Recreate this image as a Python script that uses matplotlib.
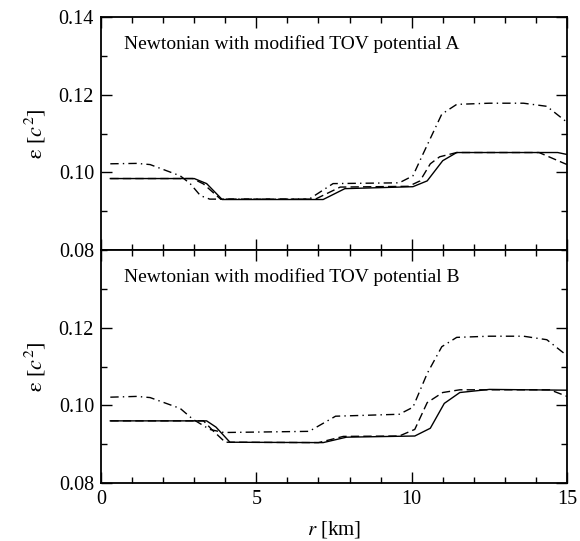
import matplotlib
matplotlib.use('Agg')
import matplotlib.pyplot as plt
from matplotlib.ticker import MultipleLocator
import numpy as np

plt.rcParams['font.family'] = ['Liberation Serif', 'DejaVu Serif']
plt.rcParams['mathtext.fontset'] = 'stix'

# panel A: radius [km] and energy density [c^2]
rA_solid = [0.3, 3.0, 3.4, 3.9, 7.15, 7.85, 10.04, 10.5, 11.0, 11.45, 14.7, 15.0]
eA_solid = [0.0984, 0.0984, 0.0971, 0.0930, 0.0930, 0.0958, 0.0963, 0.0978, 0.1030, 0.1051, 0.1051, 0.1046]

rA_dash = [0.3, 2.95, 3.3, 3.85, 6.9, 7.7, 9.9, 10.27, 10.6, 10.9, 11.45, 14.1, 15.0]
eA_dash = [0.0984, 0.0984, 0.0970, 0.0931, 0.0931, 0.0962, 0.0964, 0.0978, 0.1022, 0.1040, 0.1051, 0.1051, 0.1020]

rA_dd = [0.3, 1.15, 1.58, 2.55, 2.87, 3.2, 3.5, 6.7, 7.47, 9.6, 10.04, 10.37, 10.97, 11.45, 12.5, 13.6, 14.35, 15.0]
eA_dd = [0.1022, 0.1023, 0.1020, 0.0991, 0.0971, 0.0940, 0.0931, 0.0931, 0.0971, 0.0973, 0.0991, 0.1048, 0.1150, 0.1175, 0.1178, 0.1178, 0.1170, 0.1129]

# panel B
rB_solid = [0.3, 3.4, 3.7, 4.15, 7.15, 7.9, 10.1, 10.6, 11.05, 11.55, 12.5, 15.0]
eB_solid = [0.0960, 0.0960, 0.0944, 0.0905, 0.0904, 0.0918, 0.0921, 0.0941, 0.1005, 0.1033, 0.1041, 0.1039]

rB_dash = [0.3, 3.3, 3.6, 4.0, 7.0, 7.8, 9.6, 10.1, 10.5, 11.0, 11.55, 14.45, 15.0]
eB_dash = [0.0960, 0.0960, 0.0935, 0.0905, 0.0904, 0.0920, 0.0921, 0.0938, 0.1007, 0.1033, 0.1040, 0.1040, 0.1023]

rB_dd = [0.3, 1.15, 1.58, 2.55, 2.96, 3.5, 3.95, 6.7, 7.55, 9.6, 10.04, 10.5, 10.97, 11.45, 12.5, 13.6, 14.35, 15.0]
eB_dd = [0.1021, 0.1023, 0.1020, 0.0992, 0.0964, 0.0938, 0.0930, 0.0933, 0.0972, 0.0977, 0.0995, 0.1082, 0.1151, 0.1175, 0.1178, 0.1178, 0.1169, 0.1128]

titles = ['Newtonian with modified TOV potential A', 'Newtonian with modified TOV potential B']

fig, axes = plt.subplots(2, 1, sharex=True, figsize=(5.8, 5.41), dpi=100)
fig.subplots_adjust(left=101/580, right=567/580, top=1-17/541, bottom=1-483/541, hspace=0)

data = [(rA_solid, eA_solid, rA_dash, eA_dash, rA_dd, eA_dd),
        (rB_solid, eB_solid, rB_dash, eB_dash, rB_dd, eB_dd)]

for i, ax in enumerate(axes):
    rs, es, rd, ed, rdd, edd = data[i]
    ax.plot(rs, es, color='black', lw=1.0, ls='-')
    ax.plot(rd, ed, color='black', lw=1.0, ls=(0, (6, 3)))
    ax.plot(rdd, edd, color='black', lw=1.0, ls=(0, (6, 3, 1, 3)))
    ax.set_xlim(0, 15)
    ax.set_ylim(0.08, 0.14)
    ax.xaxis.set_major_locator(MultipleLocator(5))
    ax.xaxis.set_minor_locator(MultipleLocator(1))
    ax.yaxis.set_major_locator(MultipleLocator(0.02))
    ax.yaxis.set_minor_locator(MultipleLocator(0.01))
    ax.tick_params(which='both', direction='in', top=True, right=True, labelsize=14.5)
    ax.tick_params(which='major', length=8, width=1.0, pad=5)
    ax.tick_params(which='minor', length=4.5, width=1.0)
    for sp in ax.spines.values():
        sp.set_linewidth(1.3)
    ax.text(0.05, 0.885, titles[i], transform=ax.transAxes, fontsize=14, va='center')
    ax.set_ylabel(r'$\mathrm{\epsilon}$ [$c^2$]', fontsize=16, labelpad=8)

axes[0].yaxis.set_major_formatter(plt.FuncFormatter(lambda v, p: '%.2f' % v))
axes[1].set_yticks([0.08, 0.10, 0.12])
axes[1].set_yticklabels(['0.08', '0.10', '0.12'])
axes[1].set_ylim(0.08, 0.14)
axes[1].set_xticks([0, 5, 10, 15])
axes[1].set_xticklabels(['0', '5', '10', '15'])
axes[1].set_xlabel(r'$r$ [km]', fontsize=15, labelpad=7)

fig.savefig('out.png', dpi=100)
